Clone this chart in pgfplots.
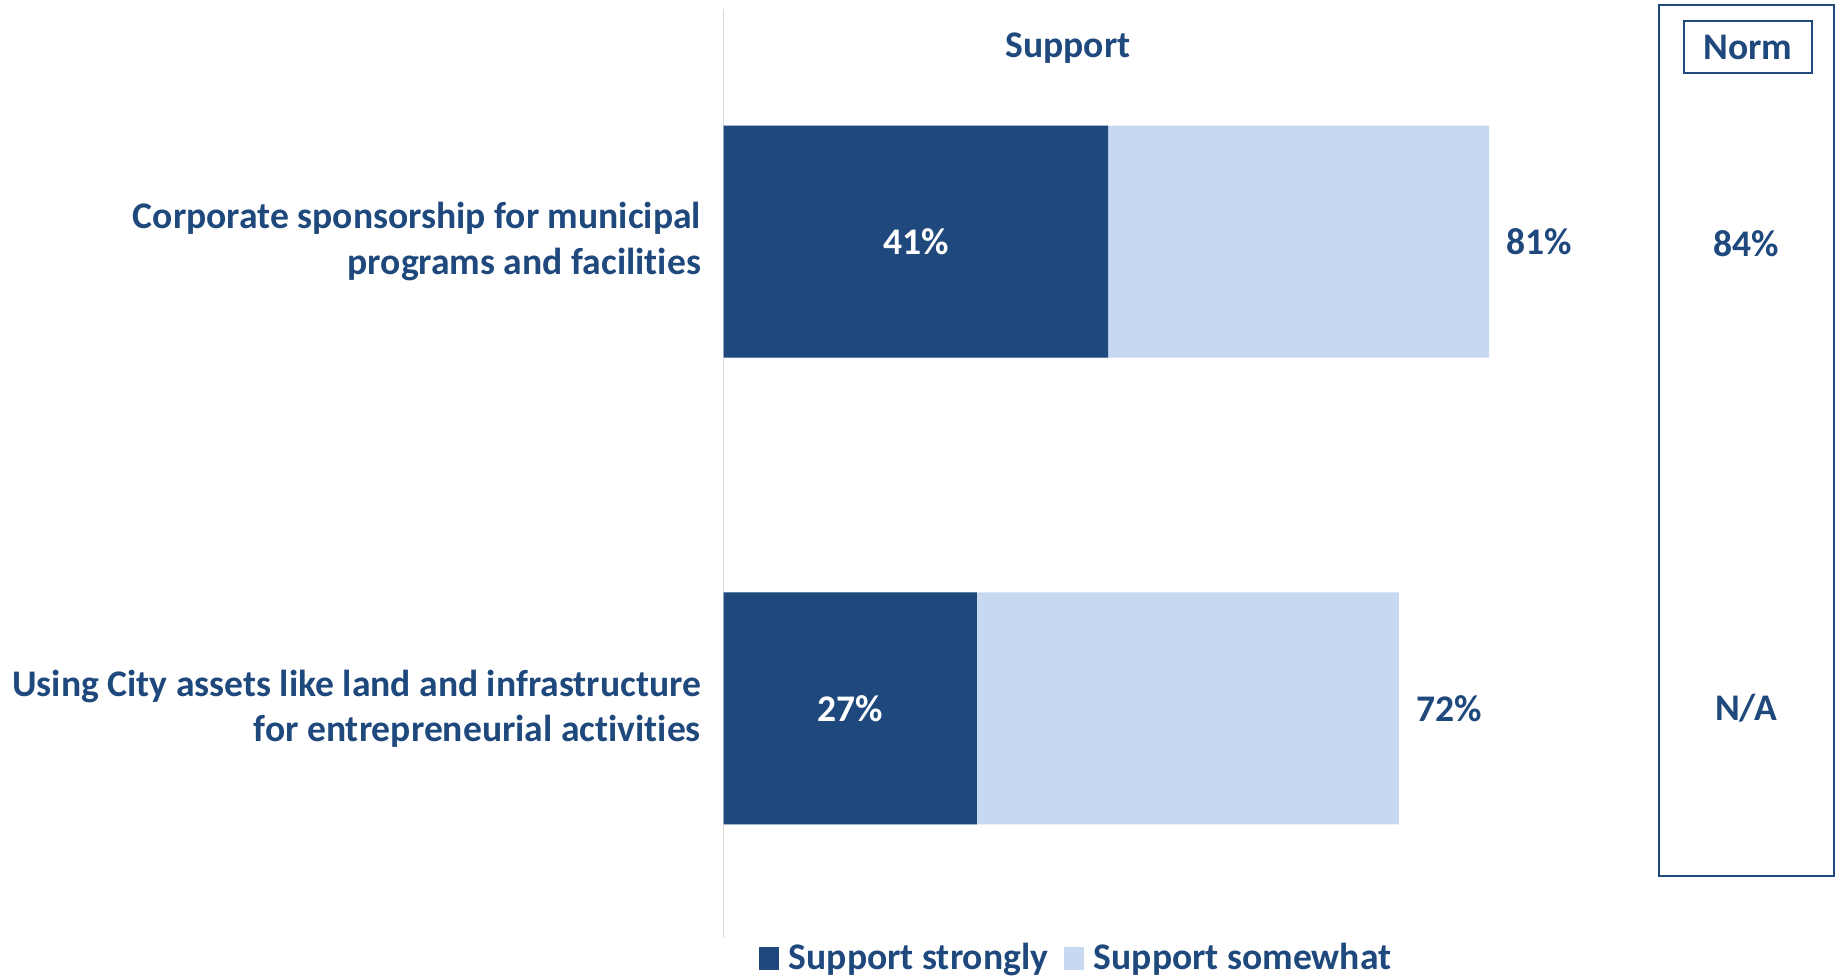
\documentclass[border=0pt]{standalone}
\usepackage{pgfplots}
\pgfplotsset{compat=1.18}
\usepackage{fontspec}
\setmainfont{Carlito}[Ligatures={NoCommon,NoRequired,NoContextual}, Contextuals=NoAlternate, RawFeature={-liga;-clig;-dlig;-calt}]
\definecolor{dblue}{HTML}{1F497D}
\definecolor{lblue}{HTML}{C6D9F1}
\definecolor{vline}{HTML}{D9D9D9}
\newcommand{\lblfont}{\fontsize{18.8}{22.6}\selectfont\bfseries}
\begin{document}
\begin{tikzpicture}[x=0.5pt,y=0.5pt]
\useasboundingbox (0,0) rectangle (1839,979);
\begin{axis}[
  at={(361.8pt,20.5pt)}, anchor=south west,
  scale only axis, width=469pt, height=464.3pt,
  xmin=0, xmax=100, ymin=41, ymax=969.6,
  axis x line=none, axis y line*=left,
  y axis line style={draw=vline, line width=0.8pt, -},
  ytick={270.6,737.4},
  yticklabels={{Using City assets like land and infrastructure\\for entrepreneurial activities},{Corporate sponsorship for municipal\\programs and facilities}},
  ytick style={draw=none},
  yticklabel style={align=right, font=\lblfont, text=dblue, xshift=-7.8pt},
  legend style={at={(0.377,-0.0215)}, anchor=center, draw=none, fill=none,
    legend columns=2, font=\lblfont, text=dblue,
    /tikz/every odd column/.append style={column sep=3pt},
    /tikz/every even column/.append style={column sep=6pt}},
  legend cell align=left,
]
\addplot[xbar, bar width=116pt, bar shift=0pt, fill=lblue, draw=none, forget plot,
  nodes near coords, point meta=explicit symbolic,
  nodes near coords style={anchor=west, xshift=5pt, text=dblue, font=\lblfont}]
  coordinates {(81.6,737.4) [81\%] (72,270.6) [72\%]};
\addplot[xbar, bar width=116pt, bar shift=0pt, fill=dblue, draw=none, forget plot]
  coordinates {(41,737.4) (27,270.6)};
\addplot[draw=none, mark=none, forget plot,
  nodes near coords, point meta=explicit symbolic,
  nodes near coords style={anchor=center, text=white, font=\lblfont}]
  coordinates {(20.5,737.4) [41\%] (13.5,270.6) [27\%]};
\addlegendimage{legend image code/.code={\fill[dblue] (0pt,-5.5pt) rectangle (9.5pt,5.5pt);}}
\addlegendentry{Support strongly}
\addlegendimage{legend image code/.code={\fill[lblue] (0pt,-5.5pt) rectangle (9.5pt,5.5pt);}}
\addlegendentry{Support somewhat}
\end{axis}
\node[font=\lblfont, text=dblue] at (1068,931) {Support};
\draw[dblue, line width=1.3pt] (1659,974) rectangle (1834,103);
\draw[dblue, line width=1.3pt] (1684,958) rectangle (1812,906);
\node[font=\lblfont, text=dblue] at (1748,932) {Norm};
\node[font=\lblfont, text=dblue] at (1746,735) {84\%};
\node[font=\lblfont, text=dblue] at (1746,271) {N/A};
\end{tikzpicture}
\end{document}
